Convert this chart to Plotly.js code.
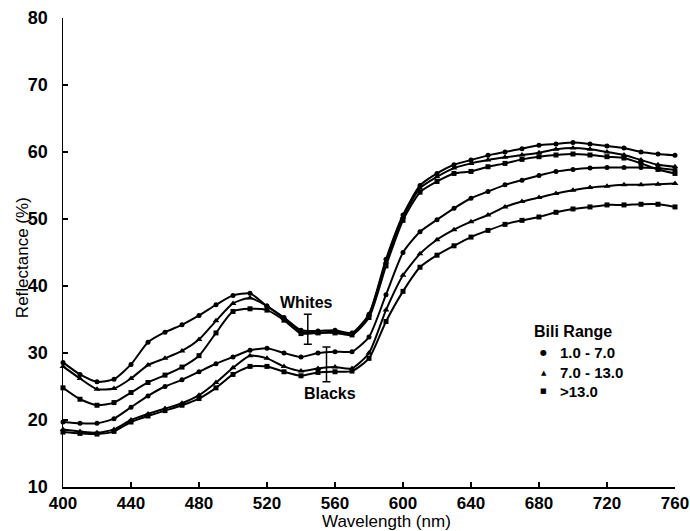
<!DOCTYPE html>
<html>
<head>
<meta charset="utf-8">
<script src="https://cdn.plot.ly/plotly-3.0.1.min.js"></script>
<style>html,body{margin:0;padding:0;background:#fff}#chart{width:690px;height:531px}</style>
</head>
<body>
<div id="chart"></div>
<script>
const wavelength = [400,410,420,430,440,450,460,470,480,490,500,510,520,530,540,550,560,570,580,590,600,610,620,630,640,650,660,670,680,690,700,710,720,730,740,750,760];

const whites_1_7 = [28.6,26.8,25.7,26.1,28.3,31.6,33.1,34.2,35.6,37.2,38.6,38.9,37.0,35.3,33.4,33.3,33.4,33.0,35.8,44.0,50.6,55.0,56.8,58.1,58.8,59.5,60.0,60.5,61.0,61.2,61.4,61.2,60.9,60.6,60.0,59.7,59.5];
const whites_7_13 = [28.0,26.2,24.6,24.7,26.2,28.2,29.2,30.3,32.0,34.8,37.4,38.2,37.0,35.2,33.2,33.0,33.2,32.9,35.7,43.6,50.3,54.6,56.3,57.6,58.3,58.8,59.2,59.55,59.9,60.4,60.6,60.4,60.0,59.55,58.8,58.1,57.8];
const whites_13 = [24.8,23.1,22.2,22.6,24.1,25.6,26.7,27.9,29.6,33.0,36.2,36.6,36.4,34.9,32.9,33.0,33.0,32.7,35.3,43.0,49.8,54.0,55.6,56.8,57.1,57.8,58.3,58.9,59.3,59.55,59.7,59.55,59.3,59.1,58.3,57.4,56.8];
const blacks_1_7 = [19.7,19.5,19.5,20.2,21.9,23.6,25.0,26.0,27.2,28.4,29.4,30.4,30.7,30.0,29.4,30.0,30.2,30.2,32.4,38.7,45.0,48.1,49.9,51.6,53.1,54.1,55.1,55.8,56.5,57.1,57.4,57.6,57.7,57.7,57.7,57.6,57.3];
const blacks_7_13 = [18.6,18.3,18.1,18.6,20.0,20.9,21.7,22.5,23.7,25.6,27.8,29.6,29.2,28.0,27.3,27.7,27.9,27.7,30.0,36.4,41.6,44.8,46.9,48.4,49.6,50.6,51.8,52.6,53.2,53.8,54.3,54.7,54.9,55.1,55.1,55.2,55.3];
const blacks_13 = [18.2,18.0,17.9,18.3,19.7,20.6,21.4,22.2,23.2,24.8,26.8,28.0,28.0,27.2,26.6,27.1,27.2,27.3,29.2,34.7,39.2,42.8,44.6,46.0,47.3,48.3,49.2,49.8,50.3,51.0,51.5,51.8,52.1,52.1,52.2,52.2,51.8];

// representative error bars
const errX = [544, 555];
const errY = [33.55, 28.3];
const errHalf = [2.25, 2.6];

const xTicks = [400,440,480,520,560,600,640,680,720,760];
const yTicks = [10,20,30,40,50,60,70,80];

const series = [
  {y: whites_1_7, sym: 'circle', size: 5},
  {y: whites_7_13, sym: 'triangle-up', size: 6},
  {y: whites_13, sym: 'square', size: 5},
  {y: blacks_1_7, sym: 'circle', size: 5},
  {y: blacks_7_13, sym: 'triangle-up', size: 6},
  {y: blacks_13, sym: 'square', size: 5}
];

const traces = series.map(s => ({
  x: wavelength, y: s.y, type: 'scatter', mode: 'lines+markers',
  line: {color: '#000', width: 2, shape: 'spline', smoothing: 0.6},
  marker: {color: '#000', symbol: s.sym, size: s.size},
  cliponaxis: false, showlegend: false, hoverinfo: 'skip'
}));

traces.push({
  x: errX, y: errY, type: 'scatter', mode: 'markers',
  marker: {size: 1, color: 'rgba(0,0,0,0)'},
  error_y: {type: 'data', array: errHalf, visible: true, color: '#000', thickness: 1.5, width: 4},
  showlegend: false, hoverinfo: 'skip'
});

const F = 'Liberation Sans, Arial, sans-serif';

const layout = {
  width: 690, height: 531,
  margin: {l: 63, r: 15, t: 18, b: 44},
  paper_bgcolor: '#fff', plot_bgcolor: '#fff',
  showlegend: false,
  xaxis: {
    range: [400, 760], tickvals: xTicks, ticktext: xTicks.map(String),
    ticks: 'inside', ticklen: 5, tickwidth: 1.5, tickcolor: '#000',
    showline: true, linecolor: '#000', linewidth: 1.5, showgrid: false, zeroline: false,
    tickfont: {family: F, size: 17, color: '#000', weight: 'bold'},
    ticklabelstandoff: 0, ticklabeloverflow: 'allow'
  },
  yaxis: {
    range: [10, 80], tickvals: yTicks, ticktext: yTicks.map(String),
    ticks: 'inside', ticklen: 5, tickwidth: 1.5, tickcolor: '#000',
    showline: true, linecolor: '#000', linewidth: 1.5, showgrid: false, zeroline: false,
    tickfont: {family: F, size: 18, color: '#000', weight: 'bold'},
    ticklabelstandoff: 10, ticklabeloverflow: 'allow'
  },
  annotations: [
    {x: 0.529, y: 0, xref: 'paper', yref: 'paper', xanchor: 'center', yanchor: 'middle', yshift: -34, text: 'Wavelength (nm)', showarrow: false, font: {family: F, size: 17, color: '#000'}},
    {x: 0, y: 0.488, xref: 'paper', yref: 'paper', xanchor: 'center', yanchor: 'middle', xshift: -41, textangle: -90, text: 'Reflectance (%)', showarrow: false, font: {family: F, size: 17, color: '#000'}},
    {x: 543, y: 37.6, xref: 'x', yref: 'y', text: 'Whites', showarrow: false, font: {family: F, size: 16, color: '#000', weight: 'bold'}},
    {x: 557, y: 23.9, xref: 'x', yref: 'y', text: 'Blacks', showarrow: false, font: {family: F, size: 16, color: '#000', weight: 'bold'}},
    {x: 0.766, y: 0.332, xref: 'paper', yref: 'paper', xanchor: 'left', yanchor: 'middle', text: 'Bili Range', showarrow: false, font: {family: F, size: 16, color: '#000', weight: 'bold'}},
    {x: 0.7855, y: 0.286, xref: 'paper', yref: 'paper', xanchor: 'center', yanchor: 'middle', text: '●', showarrow: false, font: {family: 'DejaVu Sans', size: 8, color: '#000'}},
    {x: 0.7855, y: 0.244, xref: 'paper', yref: 'paper', xanchor: 'center', yanchor: 'middle', text: '▲', showarrow: false, font: {family: 'DejaVu Sans', size: 7, color: '#000'}},
    {x: 0.7855, y: 0.204, xref: 'paper', yref: 'paper', xanchor: 'center', yanchor: 'middle', text: '■', showarrow: false, font: {family: 'DejaVu Sans', size: 7, color: '#000'}},
    {x: 0.809, y: 0.286, xref: 'paper', yref: 'paper', xanchor: 'left', yanchor: 'middle', text: '1.0 - 7.0', showarrow: false, font: {family: F, size: 15, color: '#000', weight: 'bold'}},
    {x: 0.809, y: 0.244, xref: 'paper', yref: 'paper', xanchor: 'left', yanchor: 'middle', text: '7.0 - 13.0', showarrow: false, font: {family: F, size: 15, color: '#000', weight: 'bold'}},
    {x: 0.809, y: 0.204, xref: 'paper', yref: 'paper', xanchor: 'left', yanchor: 'middle', text: '>13.0', showarrow: false, font: {family: F, size: 15, color: '#000', weight: 'bold'}}
  ]
};

Plotly.newPlot('chart', traces, layout, {displayModeBar: false, staticPlot: true});
</script>
</body>
</html>
